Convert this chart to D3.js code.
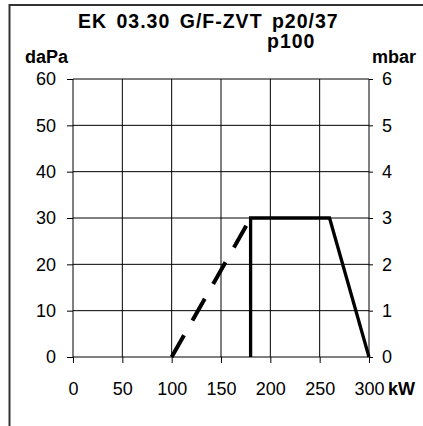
<!DOCTYPE html>
<html><head><meta charset="utf-8">
<script src="https://cdn.jsdelivr.net/npm/d3@7"></script>
<style>
html,body{margin:0;padding:0;background:#fff;}
svg{display:block;}
text{font-family:"Liberation Sans",Arial,sans-serif;fill:#000;}
</style></head>
<body>
<svg id="c" width="423" height="426"></svg>
<script>
// ---- data ----
const titleLines = ["EK 03.30 G/F-ZVT p20/37", "p100"];
const xTicks = [0, 50, 100, 150, 200, 250, 300];
const yTicksDaPa = [0, 10, 20, 30, 40, 50, 60];
const yTicksMbar = [0, 1, 2, 3, 4, 5, 6];
const dashedX = [100, 180];
const dashedY = [0, 30];
const solidX = [180, 180, 260, 300];
const solidY = [0, 30, 30, 0];
const leftUnit = "daPa", rightUnit = "mbar", xUnit = "kW";

const svg = d3.select("#c");
const x = d3.scaleLinear().domain([0, 300]).range([73, 369]);
const y = d3.scaleLinear().domain([0, 60]).range([357, 79]);
const y2 = d3.scaleLinear().domain([0, 6]).range([357, 79]);

// frame
svg.append("line").attr("x1", 9.5).attr("x2", 423).attr("y1", 5).attr("y2", 5)
  .attr("stroke", "#333").attr("stroke-width", 2);
svg.append("line").attr("x1", 9.5).attr("x2", 9.5).attr("y1", 4).attr("y2", 426)
  .attr("stroke", "#333").attr("stroke-width", 2);

// grid
const g = svg.append("g");
g.selectAll(".vg").data(xTicks).join("line")
  .attr("x1", d => x(d)).attr("x2", d => x(d)).attr("y1", y(60)).attr("y2", y(0))
  .attr("stroke", "#000").attr("stroke-width", 1);
g.selectAll(".hg").data(yTicksDaPa).join("line")
  .attr("x1", x(0)).attr("x2", x(300)).attr("y1", d => y(d)).attr("y2", d => y(d))
  .attr("stroke", "#000").attr("stroke-width", 1);

// axes
const fs = "18px";
const axL = svg.append("g").attr("transform", `translate(${x(0)},0)`)
  .call(d3.axisLeft(y).tickValues(yTicksDaPa).tickFormat(d3.format("d")).tickSize(6).tickPadding(11));
const axR = svg.append("g").attr("transform", `translate(${x(300)},0)`)
  .call(d3.axisRight(y2).tickValues(yTicksMbar).tickFormat(d3.format("d")).tickSize(4).tickPadding(9));
const axB = svg.append("g").attr("transform", `translate(0,${y(0)})`)
  .call(d3.axisBottom(x).tickValues(xTicks).tickFormat(d3.format("d")).tickSize(6).tickPadding(19));
[axL, axR, axB].forEach(a => {
  a.select(".domain").remove();
  a.selectAll("line").attr("stroke", "#000");
  a.selectAll("text").attr("font-size", fs).attr("font-family", '"Liberation Sans",Arial,sans-serif').attr("fill", "#000");
});

// lines
const line = d3.line().x(d => x(d[0])).y(d => y(d[1]));
svg.append("path").datum(dashedX.map((d, i) => [d, dashedY[i]]))
  .attr("d", line).attr("fill", "none").attr("stroke", "#000")
  .attr("stroke-width", 4).attr("stroke-dasharray", "25,17");
svg.append("path").datum(solidX.map((d, i) => [d, solidY[i]]))
  .attr("d", line).attr("fill", "none").attr("stroke", "#000")
  .attr("stroke-width", 3.3).attr("stroke-linejoin", "miter");

// titles
svg.append("text").attr("x", 78).attr("y", 28).attr("font-size", "19.5px").attr("font-weight", "bold")
  .attr("letter-spacing", "1px").attr("word-spacing", "3px")
  .text(titleLines[0]);
svg.append("text").attr("x", 267).attr("y", 48).attr("font-size", "19.5px").attr("font-weight", "bold")
  .attr("letter-spacing", "1px")
  .text(titleLines[1]);
svg.append("text").attr("x", 25).attr("y", 63).attr("font-size", "18px").attr("font-weight", "bold").text(leftUnit);
svg.append("text").attr("x", 372).attr("y", 63).attr("font-size", "18px").attr("font-weight", "bold").text(rightUnit);
svg.append("text").attr("x", 388).attr("y", 395).attr("font-size", "18px").attr("font-weight", "bold").text(xUnit);
</script>
</body></html>
